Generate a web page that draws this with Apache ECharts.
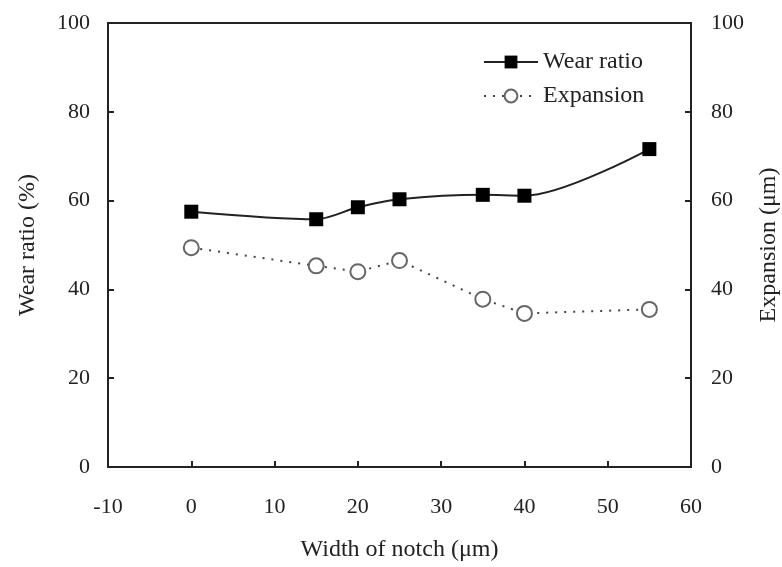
<!DOCTYPE html>
<html>
<head>
<meta charset="utf-8">
<script src="https://cdn.jsdelivr.net/npm/echarts@6/dist/echarts.min.js"></script>
<style>
  html, body { margin: 0; padding: 0; background: #fff; }
  #chart { width: 782px; height: 567px; }
</style>
</head>
<body>
<div id="chart"></div>
<script>
  // notch width (um)
  var notchWidth = [0, 15, 20, 25, 35, 40, 55];
  // wear ratio (%)
  var wearRatio = [57.5, 55.8, 58.5, 60.3, 61.3, 61.1, 71.6];
  // expansion (um)
  var expansion = [49.4, 45.3, 44.0, 46.5, 37.8, 34.6, 35.5];

  var font = '"Liberation Serif", "Times New Roman", serif';

  function pairs(ys) {
    return notchWidth.map(function (x, i) { return [x, ys[i]]; });
  }

  var myChart = echarts.init(document.getElementById('chart'));
  var option = {
    animation: false,
    textStyle: { fontFamily: font, color: '#222' },
    grid: {
      left: 108, right: 91, top: 23, bottom: 100,
      outerBoundsMode: 'none',
      show: true, borderColor: '#222', borderWidth: 2, backgroundColor: 'transparent'
    },
    legend: {
      orient: 'vertical',
      left: 478, top: 45,
      itemWidth: 54, itemHeight: 16, itemGap: 10,
      textStyle: { fontFamily: font, fontSize: 24, color: '#222' },
      data: ['Wear ratio', 'Expansion']
    },
    xAxis: {
      type: 'value', min: -10, max: 60, interval: 10,
      name: 'Width of notch (\u03bcm)', nameLocation: 'middle', nameGap: 71,
      nameTextStyle: { fontFamily: font, fontSize: 24, color: '#222' },
      axisLine: { onZero: false, lineStyle: { color: '#222', width: 2 } },
      axisTick: { inside: true, length: 6, lineStyle: { color: '#222', width: 2 } },
      axisLabel: { margin: 29, fontFamily: font, fontSize: 22, color: '#222' },
      splitLine: { show: false }
    },
    yAxis: [{
      type: 'value', min: 0, max: 100, interval: 20,
      name: 'Wear ratio (%)', nameLocation: 'middle', nameGap: 68,
      nameTextStyle: { fontFamily: font, fontSize: 24, color: '#222' },
      axisLine: { show: true, onZero: false, lineStyle: { color: '#222', width: 2 } },
      axisTick: { inside: true, length: 6, lineStyle: { color: '#222', width: 2 } },
      axisLabel: { margin: 18, fontFamily: font, fontSize: 22, color: '#222' },
      splitLine: { show: false }
    }, {
      type: 'value', min: 0, max: 100, interval: 20, position: 'right',
      name: 'Expansion (\u03bcm)', nameLocation: 'middle', nameGap: 66, nameRotate: 90,
      nameTextStyle: { fontFamily: font, fontSize: 24, color: '#222' },
      axisLine: { show: true, onZero: false, lineStyle: { color: '#222', width: 2 } },
      axisTick: { inside: true, length: 6, lineStyle: { color: '#222', width: 2 } },
      axisLabel: { margin: 20, fontFamily: font, fontSize: 22, color: '#222' },
      splitLine: { show: false }
    }],
    series: [{
      name: 'Wear ratio',
      type: 'line',
      smooth: 0.3,
      data: pairs(wearRatio),
      symbol: 'rect', symbolSize: 14,
      itemStyle: { color: '#000' },
      lineStyle: { color: '#222', width: 2 }
    }, {
      name: 'Expansion',
      type: 'line',
      yAxisIndex: 1,
      data: pairs(expansion),
      symbol: 'emptyCircle', symbolSize: 15,
      itemStyle: { color: '#666', borderWidth: 1.5 },
      lineStyle: { color: '#444', width: 2, type: [2, 7] }
    }]
  };
  myChart.setOption(option);
</script>
</body>
</html>
